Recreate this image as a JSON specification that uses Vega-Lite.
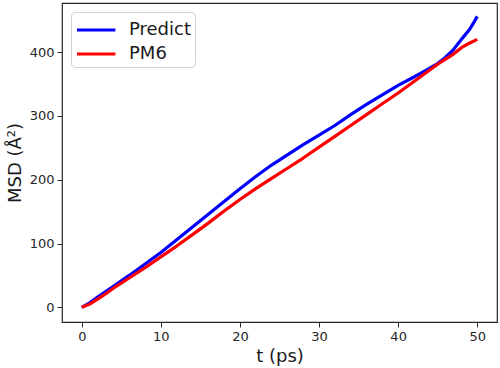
{
  "$schema": "https://vega.github.io/schema/vega-lite/v6.json",
  "width": 435,
  "height": 319,
  "autosize": "none",
  "padding": {"left": 62, "top": 3, "right": 3, "bottom": 46},
  "background": "white",
  "config": {
    "view": {"stroke": "#262626", "strokeWidth": 1.2},
    "font": "DejaVu Sans",
    "axis": {
      "grid": false,
      "domain": false,
      "tickColor": "#262626",
      "tickSize": 5,
      "labelColor": "#262626",
      "labelFontSize": 13,
      "labelFont": "DejaVu Sans",
      "titleFont": "DejaVu Sans",
      "titleFontSize": 18,
      "titleFontWeight": "normal",
      "titleColor": "#1a1a1a",
      "labelPadding": 3
    }
  },
  "data": {
    "values": [
      {"t": 0, "msd": 0, "series": "Predict"},
      {"t": 1, "msd": 7, "series": "Predict"},
      {"t": 2, "msd": 16, "series": "Predict"},
      {"t": 4, "msd": 33, "series": "Predict"},
      {"t": 6, "msd": 50, "series": "Predict"},
      {"t": 8, "msd": 68, "series": "Predict"},
      {"t": 10, "msd": 86, "series": "Predict"},
      {"t": 12, "msd": 106, "series": "Predict"},
      {"t": 14, "msd": 126, "series": "Predict"},
      {"t": 16, "msd": 146, "series": "Predict"},
      {"t": 18, "msd": 166, "series": "Predict"},
      {"t": 20, "msd": 186, "series": "Predict"},
      {"t": 22, "msd": 205, "series": "Predict"},
      {"t": 24, "msd": 223, "series": "Predict"},
      {"t": 26, "msd": 239, "series": "Predict"},
      {"t": 28, "msd": 255, "series": "Predict"},
      {"t": 30, "msd": 270, "series": "Predict"},
      {"t": 32, "msd": 285, "series": "Predict"},
      {"t": 34, "msd": 302, "series": "Predict"},
      {"t": 36, "msd": 318, "series": "Predict"},
      {"t": 38, "msd": 333, "series": "Predict"},
      {"t": 40, "msd": 348, "series": "Predict"},
      {"t": 42, "msd": 361, "series": "Predict"},
      {"t": 43, "msd": 368, "series": "Predict"},
      {"t": 44, "msd": 375, "series": "Predict"},
      {"t": 45, "msd": 382, "series": "Predict"},
      {"t": 46, "msd": 392, "series": "Predict"},
      {"t": 47, "msd": 404, "series": "Predict"},
      {"t": 48, "msd": 420, "series": "Predict"},
      {"t": 49, "msd": 435, "series": "Predict"},
      {"t": 49.5, "msd": 445, "series": "Predict"},
      {"t": 50, "msd": 456, "series": "Predict"},
      {"t": 0, "msd": 0, "series": "PM6"},
      {"t": 1, "msd": 5, "series": "PM6"},
      {"t": 2, "msd": 13, "series": "PM6"},
      {"t": 3, "msd": 21, "series": "PM6"},
      {"t": 4, "msd": 30, "series": "PM6"},
      {"t": 6, "msd": 46, "series": "PM6"},
      {"t": 8, "msd": 62, "series": "PM6"},
      {"t": 10, "msd": 79, "series": "PM6"},
      {"t": 12, "msd": 96, "series": "PM6"},
      {"t": 14, "msd": 114, "series": "PM6"},
      {"t": 16, "msd": 132, "series": "PM6"},
      {"t": 18, "msd": 151, "series": "PM6"},
      {"t": 20, "msd": 169, "series": "PM6"},
      {"t": 22, "msd": 186, "series": "PM6"},
      {"t": 24, "msd": 202, "series": "PM6"},
      {"t": 26, "msd": 218, "series": "PM6"},
      {"t": 28, "msd": 234, "series": "PM6"},
      {"t": 30, "msd": 251, "series": "PM6"},
      {"t": 32, "msd": 268, "series": "PM6"},
      {"t": 34, "msd": 285, "series": "PM6"},
      {"t": 36, "msd": 302, "series": "PM6"},
      {"t": 38, "msd": 319, "series": "PM6"},
      {"t": 40, "msd": 336, "series": "PM6"},
      {"t": 42, "msd": 354, "series": "PM6"},
      {"t": 44, "msd": 372, "series": "PM6"},
      {"t": 45, "msd": 381, "series": "PM6"},
      {"t": 46, "msd": 389, "series": "PM6"},
      {"t": 47, "msd": 397, "series": "PM6"},
      {"t": 48, "msd": 407, "series": "PM6"},
      {"t": 49, "msd": 414, "series": "PM6"},
      {"t": 50, "msd": 420, "series": "PM6"}
    ]
  },
  "mark": {"type": "line", "strokeWidth": 3.2, "strokeJoin": "round"},
  "encoding": {
    "x": {
      "field": "t",
      "type": "quantitative",
      "scale": {"domain": [-2.5, 52.5], "nice": false, "zero": false},
      "axis": {"values": [0, 10, 20, 30, 40, 50], "title": "t (ps)", "titlePadding": 4}
    },
    "y": {
      "field": "msd",
      "type": "quantitative",
      "scale": {"domain": [-23, 477], "nice": false, "zero": false},
      "axis": {"values": [0, 100, 200, 300, 400], "title": "MSD (Å²)", "titlePadding": 5}
    },
    "color": {
      "field": "series",
      "type": "nominal",
      "sort": ["Predict", "PM6"],
      "scale": {"domain": ["Predict", "PM6"], "range": ["#0000ff", "#ff0000"]},
      "legend": {
        "title": null,
        "orient": "top-left",
        "offset": 9,
        "symbolType": "M-1,0H2.2",
        "symbolSize": 576,
        "symbolStrokeWidth": 3.2,
        "labelFontSize": 18,
        "labelFont": "DejaVu Sans",
        "labelColor": "#1a1a1a",
        "labelOffset": 26,
        "rowPadding": 1,
        "padding": 4,
        "fillColor": "white",
        "strokeColor": "#d0d0d0",
        "cornerRadius": 4
      }
    }
  }
}
